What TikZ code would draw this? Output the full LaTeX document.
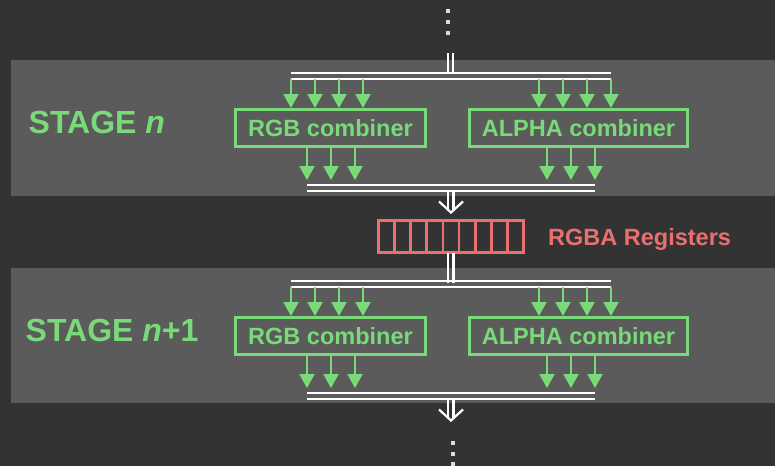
\documentclass[tikz,border=0pt]{standalone}
\usepackage{fontspec}
\setmainfont{Liberation Sans}
\usetikzlibrary{arrows.meta,calc}

\definecolor{bgdark}{HTML}{333333}
\definecolor{panelgray}{HTML}{5B5B5B}
\definecolor{combgreen}{RGB}{122,218,122}
\definecolor{regred}{RGB}{232,112,112}
\definecolor{dotgray}{HTML}{DDDDDD}

\begin{document}
\begin{tikzpicture}[x=1pt,y=-1pt,
  combiner/.style={draw=combgreen, line width=3pt, inner sep=0pt,
    minimum height=37pt, text=combgreen,
    font=\fontsize{23.5}{28}\selectfont\bfseries},
  stagelabel/.style={anchor=base west, inner sep=0pt, text=combgreen,
    font=\fontsize{32}{36}\selectfont\bfseries},
  garrow/.style={draw=combgreen, line width=2.5pt,
    -{Triangle[width=15pt,length=14pt]}},
  wline/.style={draw=white, line width=2.2pt},
  chevron/.style={draw=white, line width=2.2pt, line join=miter},
  dotmark/.style={fill=dotgray, minimum size=4pt, inner sep=0pt, outer sep=0pt}
]

% background and the two stage panels
\fill[bgdark] (0,0) rectangle (775,466);
\fill[panelgray] (11,60) rectangle (775,196);
\fill[panelgray] (11,268) rectangle (775,403);

% continuation dots above and below
\node[dotmark] (dta) at (448.3,11.3) {};
\node[dotmark] (dtb) at (448.3,22) {};
\node[dotmark] (dtc) at (448.3,32.7) {};
\node[dotmark] (dtd) at (452.7,443) {};
\node[dotmark] (dte) at (452.7,453.7) {};
\node[dotmark] (dtf) at (452.7,464.3) {};

% one combiner stage, drawn twice
\foreach \s/\dy in {a/0,b/208} {
  \begin{scope}[yshift=-\dy pt]
    % input and output buses
    \coordinate (busin\s) at (451,79.3);
    \coordinate (tip\s) at (451,180);
    \coordinate (busout\s) at (451,191);
    \draw[wline] (291,73.3) -- (611,73.3);
    \draw[wline] (291,79.3) -- (611,79.3);
    \draw[wline] (307,185) -- (595,185);
    \draw[wline] (307,191) -- (595,191);

    % the two combiners
    \node[combiner, minimum width=190pt] (rgb\s) at (330.5,128) {RGB combiner};
    \node[combiner, minimum width=218pt] (alpha\s) at (578.5,128) {ALPHA combiner};

    % inputs
    \foreach \x in {291,315,339,363}
      \draw[garrow] (\x,0 |- busin\s) -- (\x,0 |- rgb\s.north);
    \foreach \x in {539,563,587,611}
      \draw[garrow] (\x,0 |- busin\s) -- (\x,0 |- alpha\s.north);

    % outputs
    \foreach \x in {307,331,355}
      \draw[garrow] (\x,0 |- rgb\s.south) -- (\x,0 |- tip\s);
    \foreach \x in {547,571,595}
      \draw[garrow] (\x,0 |- alpha\s.south) -- (\x,0 |- tip\s);

    % double arrow leaving the stage
    \coordinate (apex\s) at (451,212.5);
    \draw[wline] (448,0 |- busout\s) -- (448,211);
    \draw[wline] (453.5,0 |- busout\s) -- (453.5,211);
    \draw[chevron] (439,201.5) -- (apex\s) -- (463,201.5);
  \end{scope}
}

% double line entering stage n
\coordinate (feedtop) at (450.5,53);
\draw[wline] (448,0 |- feedtop) -- (448,74);
\draw[wline] (453,0 |- feedtop) -- (453,74);

% register file between the stages
\node[draw=regred, line width=3pt, minimum width=145pt, minimum height=32pt,
      inner sep=0pt, outer sep=0pt] (regs) at (451,236.5) {};
\foreach \i in {1,...,8}
  \draw[regred, line width=2.8pt]
    ($(regs.north west)!\i/9!(regs.north east)$) --
    ($(regs.south west)!\i/9!(regs.south east)$);
\node[anchor=base west, inner sep=0pt, text=regred,
      font=\fontsize{23.5}{28}\selectfont\bfseries] (regtext) at (548,245) {RGBA Registers};

% double line from the registers into stage n+1
\draw[wline] (448,0 |- regs.south) -- (448,282.5);
\draw[wline] (453.5,0 |- regs.south) -- (453.5,282.5);

% stage labels
\node[stagelabel] (stagea) at (28.5,133) {STAGE \textit{n}};
\node[stagelabel] (stageb) at (25.5,341) {STAGE \textit{n}+1};

\end{tikzpicture}
\end{document}
